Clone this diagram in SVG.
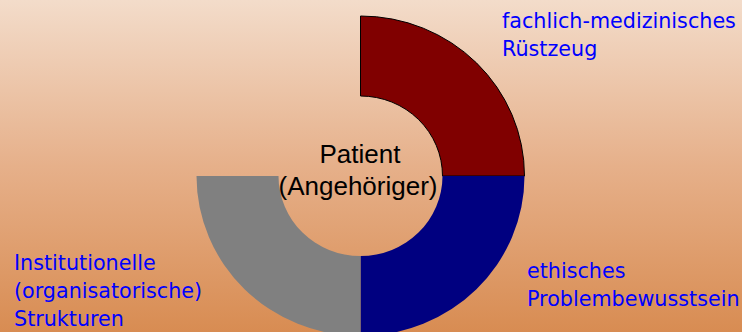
<svg xmlns="http://www.w3.org/2000/svg" width="742" height="332" viewBox="0 0 742 332">
  <defs>
    <linearGradient id="bg" x1="0" y1="0" x2="0" y2="1">
      <stop offset="0" stop-color="#F3DCCA"/>
      <stop offset="0.5" stop-color="#E6B08A"/>
      <stop offset="1" stop-color="#D88C52"/>
    </linearGradient>
  </defs>
  <style>
    .lbl { font-family: "DejaVu Sans", Verdana, sans-serif; font-size: 20.7px; fill: #0000FF; }
    .ctr { font-family: "Liberation Sans", Arial, sans-serif; font-size: 26px; fill: #000000; text-anchor: middle; }
  </style>
  <rect x="0" y="0" width="742" height="332" fill="url(#bg)"/>
  <g id="ring">
    <g id="seg-fachlich">
      <path d="M360.5,16 A164,160 0 0 1 524.5,176 L442.5,176 A82,80 0 0 0 360.5,96 Z" fill="#800000" stroke="#000" stroke-width="1"/>
    </g>
    <g id="seg-ethisch">
      <path d="M524.5,176 A164,160 0 0 1 360.5,336 L360.5,256 A82,80 0 0 0 442.5,176 Z" fill="#000080"/>
    </g>
    <g id="seg-institutionell">
      <path d="M360.5,336 A164,160 0 0 1 196.5,176 L278.5,176 A82,80 0 0 0 360.5,256 Z" fill="#808080"/>
    </g>
  </g>
  <g id="center">
    <text class="ctr" x="360" y="163">Patient</text>
    <text class="ctr" x="358" y="195">(Angehöriger)</text>
  </g>
  <g id="label-fachlich">
    <text class="lbl" x="502" y="28">fachlich-medizinisches</text>
    <text class="lbl" x="502" y="56">Rüstzeug</text>
  </g>
  <g id="label-ethisch">
    <text class="lbl" x="527" y="278">ethisches</text>
    <text class="lbl" x="527" y="306">Problembewusstsein</text>
  </g>
  <g id="label-institutionell">
    <text class="lbl" x="14" y="270">Institutionelle</text>
    <text class="lbl" x="14" y="298">(organisatorische)</text>
    <text class="lbl" x="14" y="326">Strukturen</text>
  </g>
  <g id="connectors"/>
</svg>
